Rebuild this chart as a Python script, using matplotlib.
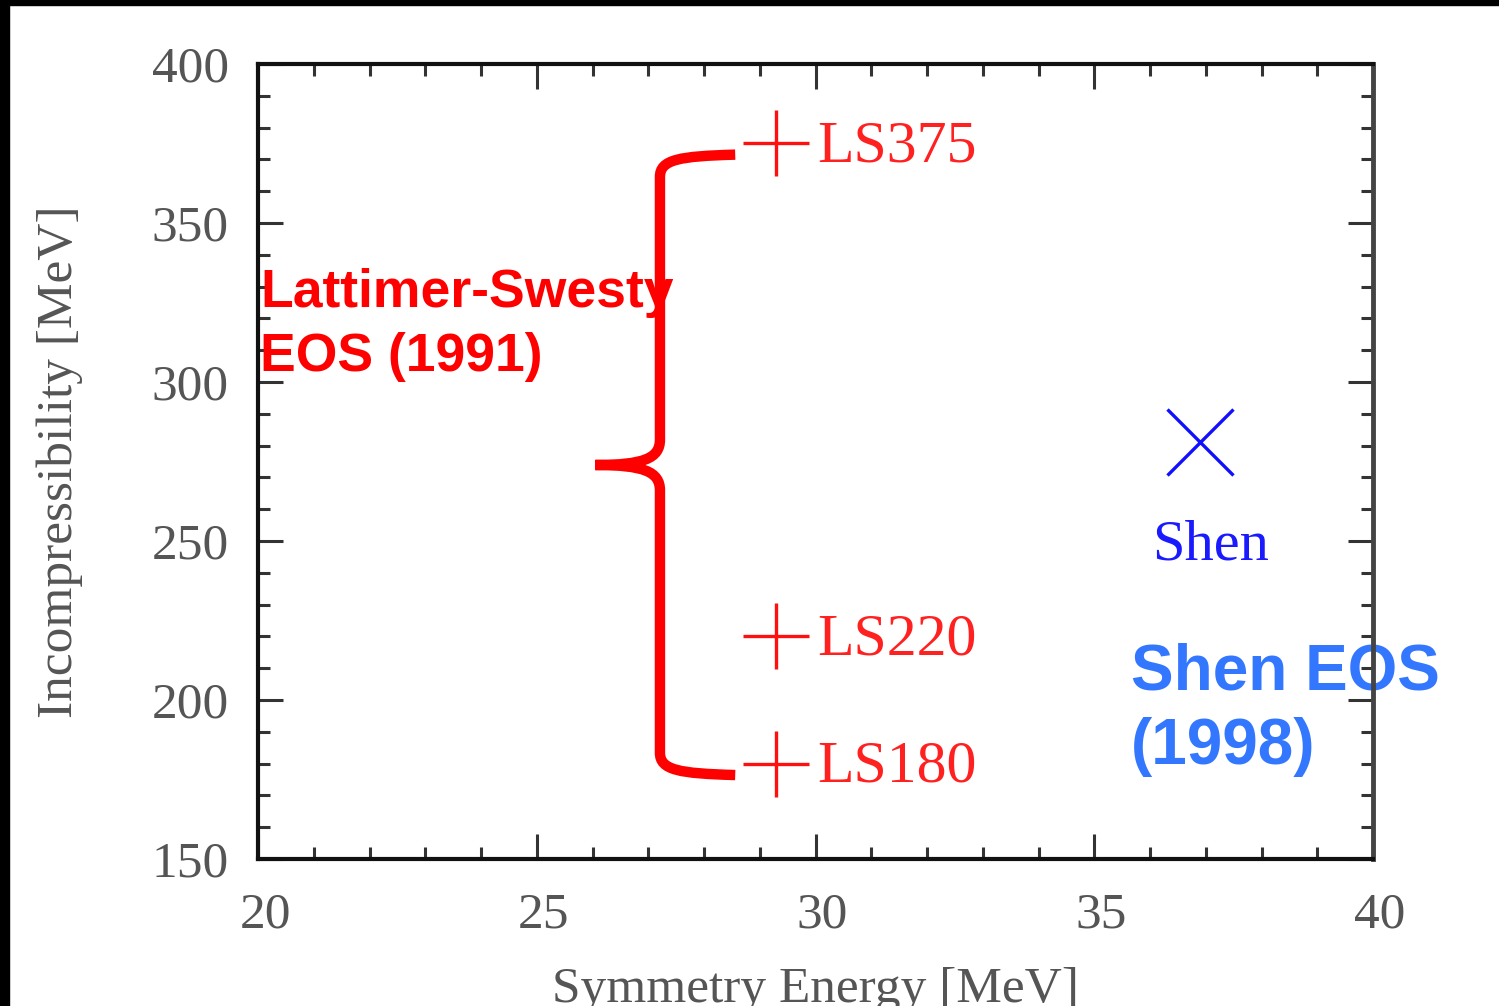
import matplotlib.pyplot as plt
from matplotlib.path import Path
from matplotlib.patches import PathPatch, Rectangle
from matplotlib.transforms import ScaledTranslation

# data
ls_names = ["LS375", "LS220", "LS180"]
ls_sym = [29.3, 29.3, 29.3]
ls_inc = [375, 220, 180]
shen_sym = [36.9]
shen_inc = [281]

x_ticks = [20, 25, 30, 35, 40]
y_ticks = [150, 200, 250, 300, 350, 400]

serif = "Liberation Serif"
sans = "Liberation Sans"
grey = "#555555"

fig = plt.figure(figsize=(14.99, 10.06), dpi=100)
ax = fig.add_axes([258 / 1499, 1 - 859 / 1006, 1115 / 1499, 795 / 1006])

# black border on the left and top of the screenshot
fig.patches.append(Rectangle((0, 0), 8.5 / 1499, 1, transform=fig.transFigure, color="black", zorder=10))
fig.patches.append(Rectangle((0, 1 - 4.7 / 1006), 1, 4.7 / 1006, transform=fig.transFigure, color="black", zorder=10))

ax.set_xlim(20, 40)
ax.set_ylim(150, 400)
ax.set_xticks(x_ticks)
ax.set_yticks(y_ticks)
ax.set_xticks(range(20, 41), minor=True)
ax.set_yticks(range(150, 401, 10), minor=True)
ax.tick_params(which="both", direction="in", top=True, right=True, width=2.2, color="#333333")
ax.tick_params(which="major", length=18)
ax.tick_params(which="minor", length=8.5)
ax.tick_params(axis="x", pad=24)
ax.tick_params(axis="y", pad=21)
shift = ScaledTranslation(7 / 100, 0, fig.dpi_scale_trans)
for lab in ax.get_xticklabels():
    lab.set_transform(lab.get_transform() + shift)
for lab in ax.get_xticklabels() + ax.get_yticklabels():
    lab.set_fontfamily(serif)
    lab.set_fontsize(37)
    lab.set_color(grey)
for side in ["left", "top", "bottom"]:
    ax.spines[side].set_linewidth(3)
    ax.spines[side].set_color("#111111")
ax.spines["right"].set_linewidth(3.5)
ax.spines["right"].set_color("#444444")

ax.set_xlabel("Symmetry Energy [MeV]", fontfamily=serif, fontsize=37, color=grey)
ax.set_ylabel("Incompressibility [MeV]", fontfamily=serif, fontsize=37, color=grey)
ax.xaxis.set_label_coords(0.5, -0.135)
ax.yaxis.set_label_coords(-0.157, 0.5)

# points
ax.plot(ls_sym, ls_inc, linestyle="none", marker="+", markersize=47, markeredgewidth=2.4, color="#ff1010", clip_on=False)
ax.plot(shen_sym, shen_inc, linestyle="none", marker="x", markersize=47, markeredgewidth=2.4, color="#1010ff", clip_on=False)

for name, x, y in zip(ls_names, ls_sym, ls_inc):
    ax.text(x + 0.73, y - 1.2, name, fontfamily=serif, fontsize=43, color="#ff2020", ha="left", va="center")
ax.text(shen_sym[0] + 0.18, 248.5, "Shen", fontfamily=serif, fontsize=42, color="#1a1aff", ha="center", va="center")

# curly brace grouping the LS models
xa, xs, xt = 28.56, 27.21, 26.05
yt, ym, yb = 371.5, 273.9, 176.4
verts = [
    (xa, yt),
    (xs + 0.35, yt - 0.5), (xs, yt - 1.5), (xs, yt - 7),
    (xs, ym + 8),
    (xs, ym + 2), (xs - 0.3, ym), (xt, ym),
    (xs - 0.3, ym), (xs, ym - 2), (xs, ym - 8),
    (xs, yb + 7),
    (xs, yb + 1.5), (xs + 0.35, yb + 0.5), (xa, yb),
]
codes = [Path.MOVETO] + [Path.CURVE4] * 3 + [Path.LINETO] + [Path.CURVE4] * 6 + [Path.LINETO] + [Path.CURVE4] * 3
ax.add_patch(PathPatch(Path(verts, codes), facecolor="none", edgecolor="#ff0000", linewidth=7.5, capstyle="butt"))

ax.text(20.04, 318, "Lattimer-Swesty\nEOS (1991)", fontfamily=sans, fontweight="bold", fontsize=38.5,
        color="#ff0000", ha="left", va="center", linespacing=1.36)
ax.text(35.66, 197, "Shen EOS\n(1998)", fontfamily=sans, fontweight="bold", fontsize=46,
        color="#3377ff", ha="left", va="center", linespacing=1.3, zorder=1)

fig.savefig("out.png", dpi=100)
